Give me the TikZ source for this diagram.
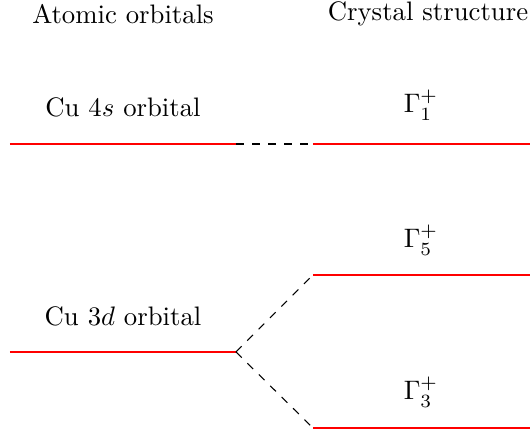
\documentclass[tikz,border=0pt]{standalone}
\usepackage{amsmath,amssymb}
\usepackage{tikz}
\usetikzlibrary{positioning,calc}

\begin{document}
\begin{tikzpicture}[x=0.374pt,y=-0.374pt,level/.style={draw=red,thick},link/.style={draw,dashed,thin},lbl/.style={inner sep=0pt,anchor=center}]
\useasboundingbox (0,0) rectangle (530,432);
% headings
\node[lbl] (atomic) at (123,14) {Atomic orbitals};
\node[lbl] (crystal) at (428,14) {Crystal structure};
% level ends
\coordinate (s-l) at (10,144);  \coordinate (s-r) at (236,144);
\coordinate (g1-l) at (313,144); \coordinate (g1-r) at (530,144);
\coordinate (g5-l) at (313,275); \coordinate (g5-r) at (530,275);
\coordinate (d-l) at (10,352);  \coordinate (d-r) at (236,352);
\coordinate (g3-l) at (313,428); \coordinate (g3-r) at (530,428);
\draw[level] (s-l)--(s-r);
\draw[level] (g1-l)--(g1-r);
\draw[level] (g5-l)--(g5-r);
\draw[level] (d-l)--(d-r);
\draw[level] (g3-l)--(g3-r);
% labels
\node[lbl] (cu4s) at (123,107) {Cu $4s$ orbital};
\node[lbl] (cu3d) at (123,316) {Cu $3d$ orbital};
\node[lbl] (gam1) at (421,105) {$\Gamma_1^+$};
\node[lbl] (gam5) at (421,240) {$\Gamma_5^+$};
\node[lbl] (gam3) at (421,392) {$\Gamma_3^+$};
% correlations
\draw[link] (s-r)--(g1-l);
\draw[link] (d-r)--(g5-l);
\draw[link] (d-r)--(g3-l);
\end{tikzpicture}
\end{document}
